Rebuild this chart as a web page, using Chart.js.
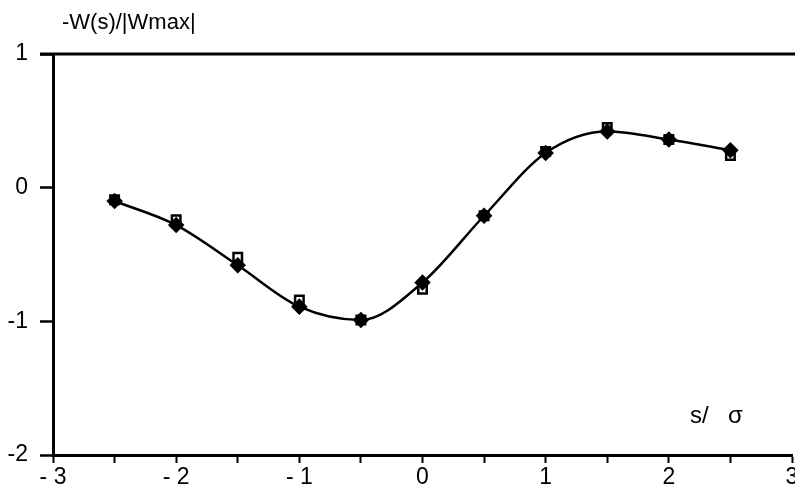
<!DOCTYPE html>
<html>
<head>
<meta charset="utf-8">
<script src="https://cdn.jsdelivr.net/npm/chart.js@4"></script>
<style>
  html, body { margin: 0; padding: 0; background: #fff; overflow: hidden; }
  #wrap { width: 801px; height: 495px; position: relative; }
</style>
</head>
<body>
<div id="wrap"><canvas id="wakeChart"></canvas></div>
<script>
// s / sigma positions
const sPos = [-2.5, -2, -1.5, -1, -0.5, 0, 0.5, 1, 1.5, 2, 2.5];
// open squares
const squareVals = [-0.09, -0.24, -0.52, -0.84, -0.99, -0.76, -0.21, 0.27, 0.45, 0.36, 0.24];
// filled diamonds (curve drawn through these)
const diamondVals = [-0.10, -0.28, -0.58, -0.89, -0.99, -0.71, -0.21, 0.26, 0.42, 0.36, 0.28];
const xTickLabels = { '-3': '- 3', '-2': '- 2', '-1': '- 1', '0': '0', '1': '1', '2': '2', '3': '3' };
const yTickLabels = { '1': '1', '0': '0', '-1': '-1', '-2': '-2' };

Chart.defaults.font.family = '"Liberation Sans", Arial, sans-serif';
Chart.defaults.font.size = 23;
Chart.defaults.color = '#000';

// frame line along the top + axis titles
const framePlugin = {
  id: 'frame',
  afterDraw(chart) {
    const { ctx, chartArea } = chart;
    ctx.save();
    ctx.strokeStyle = '#000';
    ctx.lineWidth = 3;
    ctx.beginPath();
    ctx.moveTo(chartArea.left - 13, chartArea.top);
    ctx.lineTo(chart.width, chartArea.top);
    ctx.stroke();
    ctx.fillStyle = '#000';
    ctx.textBaseline = 'alphabetic';
    ctx.font = '22px "Liberation Sans", Arial, sans-serif';
    ctx.fillText('-W(s)/|Wmax|', chartArea.left + 9, 29);
    ctx.font = '24px "Liberation Sans", Arial, sans-serif';
    ctx.fillText('s/', chartArea.right - 102, chartArea.bottom - 32);
    ctx.fillText('σ', chartArea.right - 64, chartArea.bottom - 32);
    ctx.restore();
  }
};

const ctx = document.getElementById('wakeChart').getContext('2d');
const wakeChart = new Chart(ctx, {
  type: 'scatter',
  data: {
    datasets: [
      {
        label: 'squares',
        data: sPos.map((s, i) => ({ x: s, y: squareVals[i] })),
        pointStyle: 'rect',
        pointRadius: 6,
        pointBackgroundColor: '#fff',
        pointBorderColor: '#000',
        pointBorderWidth: 2.5,
        showLine: false,
        order: 1
      },
      {
        label: 'diamonds',
        data: sPos.map((s, i) => ({ x: s, y: diamondVals[i] })),
        pointStyle: 'rectRot',
        pointRadius: 6.5,
        pointBackgroundColor: '#000',
        pointBorderColor: '#000',
        borderColor: '#000',
        borderWidth: 2.5,
        showLine: true,
        cubicInterpolationMode: 'monotone',
        order: 0
      }
    ]
  },
  options: {
    responsive: true,
    maintainAspectRatio: false,
    animation: false,
    layout: { padding: { top: 54, right: 0, left: 0, bottom: 0 } },
    plugins: {
      legend: { display: false },
      tooltip: { enabled: false }
    },
    scales: {
      x: {
        type: 'linear',
        min: -3,
        max: 3,
        border: { display: true, color: '#000', width: 3 },
        grid: { drawOnChartArea: false, drawTicks: true, tickLength: 8, tickColor: '#000', tickWidth: 2 },
        ticks: {
          stepSize: 0.5,
          autoSkip: false,
          maxRotation: 0,
          color: '#000',
          font: { size: 23 },
          padding: 1,
          callback: v => xTickLabels[String(v)] || ''
        },
        afterFit(scale) { scale.height = 40; }
      },
      y: {
        type: 'linear',
        min: -2,
        max: 1,
        border: { display: true, color: '#000', width: 3 },
        grid: { drawOnChartArea: false, drawTicks: true, tickLength: 13, tickColor: '#000', tickWidth: 2.5 },
        ticks: {
          stepSize: 1,
          color: '#000',
          font: { size: 23 },
          padding: 12,
          callback: v => yTickLabels[String(v)] || ''
        },
        afterFit(scale) { scale.width = 53; }
      }
    }
  },
  plugins: [framePlugin]
});
</script>
</body>
</html>
